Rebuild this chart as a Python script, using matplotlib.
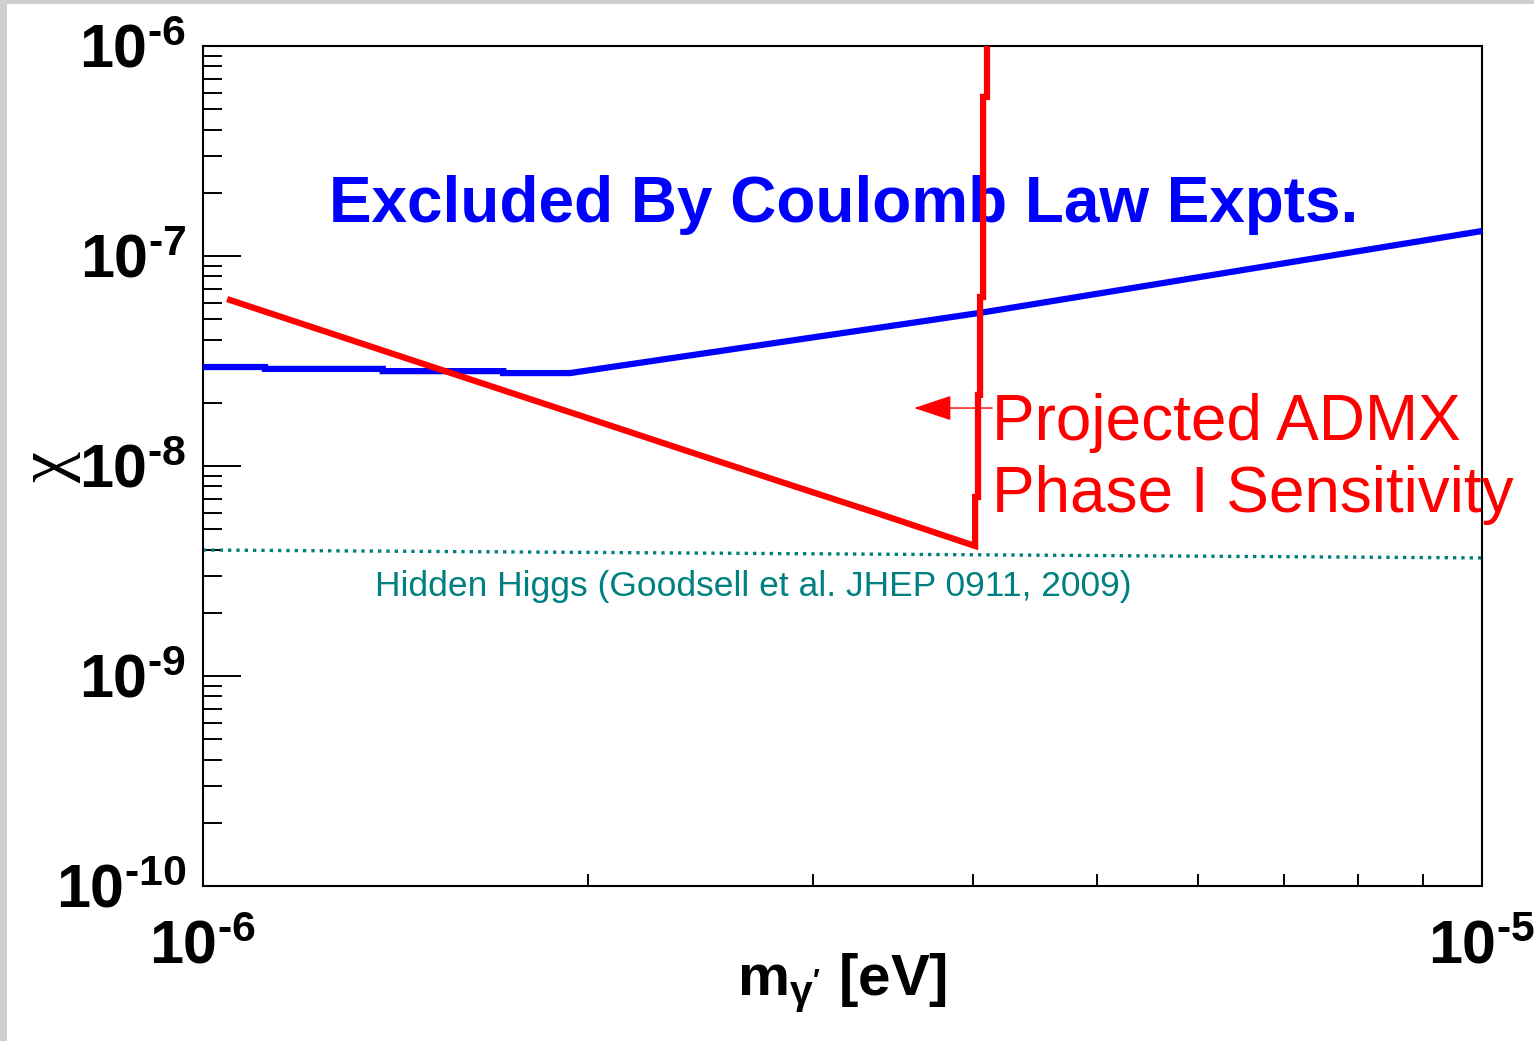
import numpy as np
import matplotlib
matplotlib.use("Agg")
import matplotlib.pyplot as plt
from matplotlib.patches import Rectangle
from matplotlib.ticker import FixedLocator, FuncFormatter, NullFormatter

plt.rcParams['font.family'] = ['Liberation Sans', 'DejaVu Sans']
plt.rcParams['mathtext.fontset'] = 'custom'
plt.rcParams['mathtext.rm'] = 'Liberation Sans:bold'
plt.rcParams['mathtext.bf'] = 'Liberation Sans:bold'
plt.rcParams['mathtext.it'] = 'Liberation Sans:bold'

# Coulomb law exclusion (blue)
coulomb_m = [1.0e-6, 1.118e-6, 1.118e-6, 1.382e-6, 1.382e-6, 1.717e-6, 1.717e-6,
             1.936e-6, 4.05e-6, 1.0e-5]
coulomb_chi = [2.96e-8, 2.96e-8, 2.90e-8, 2.90e-8, 2.83e-8, 2.83e-8, 2.77e-8,
               2.77e-8, 5.36e-8, 1.315e-7]

# projected ADMX phase I sensitivity (red)
admx_m = [1.050e-6, 1.552e-6, 1.971e-6, 2.360e-6, 2.583e-6, 2.826e-6, 3.383e-6,
          4.015e-6, 4.015e-6, 4.036e-6, 4.036e-6, 4.051e-6, 4.051e-6, 4.073e-6,
          4.073e-6, 4.102e-6, 4.102e-6]
admx_chi = [6.17e-8, 2.81e-8, 1.74e-8, 1.21e-8, 1.01e-8, 8.43e-9, 5.90e-9,
            4.16e-9, 7.12e-9, 7.12e-9, 2.18e-8, 2.18e-8, 6.38e-8, 6.38e-8,
            5.72e-7, 5.72e-7, 1.0e-6]

# hidden higgs expectation (teal dotted)
higgs_m = [1.0e-6, 1.0e-5]
higgs_chi = [3.98e-9, 3.65e-9]

y_major = [1e-10, 1e-9, 1e-8, 1e-7, 1e-6]
x_major = [1e-6, 1e-5]

W, H = 1534, 1041
fig = plt.figure(figsize=(W / 100, H / 100), dpi=100)
fig.patch.set_facecolor('#cfcfcf')
fig.add_artist(Rectangle((7 / W, 0), 1, 1 - 4 / H, transform=fig.transFigure,
                         facecolor='white', edgecolor='none', zorder=0))

ax = fig.add_axes([203 / W, 1 - 886 / H, 1279 / W, 840 / H])
ax.set_xscale('log')
ax.set_yscale('log')
ax.set_xlim(1e-6, 1e-5)
ax.set_ylim(1e-10, 1e-6)

ax.plot(coulomb_m, coulomb_chi, color='#0000ff', lw=4.5, solid_joinstyle='miter', zorder=3)
ax.plot(admx_m, admx_chi, color='#ff0000', lw=4.5, solid_joinstyle='miter', zorder=4)
ax.plot(higgs_m, higgs_chi, color='#008080', lw=2.4, dashes=(1, 1.5),
        dash_capstyle='butt', zorder=2)

def pow_label(v, pos):
    e = int(round(np.log10(v)))
    return r'$10^{\text{-}%d}$' % abs(e)

ax.yaxis.set_major_locator(FixedLocator(y_major))
ax.yaxis.set_major_formatter(FuncFormatter(pow_label))
ax.xaxis.set_major_locator(FixedLocator(x_major))
ax.xaxis.set_major_formatter(FuncFormatter(pow_label))
ax.xaxis.set_minor_formatter(NullFormatter())
ax.yaxis.set_minor_formatter(NullFormatter())

ax.tick_params(axis='y', which='major', direction='in', length=27, width=1.4,
               labelsize=44, pad=12)
ax.tick_params(axis='y', which='minor', direction='in', length=14, width=1.4)
ax.tick_params(axis='x', which='major', direction='in', length=8.6, width=1.4,
               labelsize=44, pad=24)
ax.tick_params(axis='x', which='minor', direction='in', length=8.6, width=1.4)
for s in ax.spines.values():
    s.set_linewidth(1.5)

ax.text(0.501, 0.811, 'Excluded By Coulomb Law Expts.', transform=ax.transAxes,
        color='#0000ff', fontsize=46, fontweight='bold', ha='center', va='center',
        zorder=1)
ax.text(0.617, 0.551, 'Projected ADMX', transform=ax.transAxes, color='#ff0000',
        fontsize=46, ha='left', va='center', zorder=5)
ax.text(0.617, 0.465, 'Phase I Sensitivity', transform=ax.transAxes, color='#ff0000',
        fontsize=46, ha='left', va='center', zorder=5)
ax.text(0.1345, 0.357, 'Hidden Higgs (Goodsell et al. JHEP 0911, 2009)',
        transform=ax.transAxes, color='#008080', fontsize=25.5, ha='left', va='center')
ax.annotate('', xy=(0.556, 0.569), xytext=(0.617, 0.569), xycoords='axes fraction',
            arrowprops=dict(arrowstyle='-|>,head_length=2.4,head_width=0.8',
                            color='#ff0000', lw=1, mutation_scale=10,
                            shrinkA=0, shrinkB=0))

fig.text(842 / W, 1 - 983 / H, r"$\mathbf{m}_{\mathrm{γ}'}$ $\mathbf{[eV]}$",
         fontsize=42, ha='center', va='center')
fig.text(49 / W, 1 - 467 / H, 'χ', family=['Liberation Serif', 'DejaVu Serif'],
         fontsize=50, rotation=90, ha='center', va='center')

fig.savefig('out.png', dpi=100, facecolor=fig.get_facecolor())
